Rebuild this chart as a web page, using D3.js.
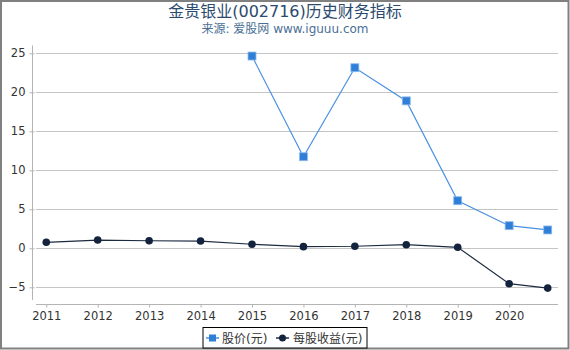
<!DOCTYPE html>
<html>
<head>
<meta charset="utf-8">
<script src="https://cdn.jsdelivr.net/npm/d3@7"></script>
<style>
  body { margin: 0; background: #fff; }
  svg text { font-family: "DejaVu Sans", "Noto Sans CJK SC", sans-serif; }
</style>
</head>
<body>
<div id="chart"></div>
<script>
// years (last point is a partial year)
const years = [2011, 2012, 2013, 2014, 2015, 2016, 2017, 2018, 2019, 2020, 2020.75];
const price = [null, null, null, null, 24.65, 11.74, 23.15, 18.9, 6.1, 2.9, 2.35];
const eps = [0.77, 1.06, 0.97, 0.93, 0.52, 0.21, 0.26, 0.46, 0.13, -4.54, -5.1];
const xTicks = [2011, 2012, 2013, 2014, 2015, 2016, 2017, 2018, 2019, 2020];
const yTicks = [-5, 0, 5, 10, 15, 20, 25];
const seriesNames = ["股价(元)", "每股收益(元)"];

const W = 570, H = 350;
const svg = d3.select("#chart").append("svg")
  .attr("width", W).attr("height", H);

// outer frame
svg.append("rect")
  .attr("x", 1).attr("y", 1).attr("width", W - 2.5).attr("height", H - 2.5)
  .attr("fill", "none").attr("stroke", "#808080").attr("stroke-width", 2);

const x = d3.scaleLinear().domain([2010.8, 2020.95]).range([36, 558]);
const y = d3.scaleLinear().domain([-7, 26]).range([302.9, 45.5]);

// title
svg.append("text").attr("x", 285).attr("y", 17).attr("text-anchor", "middle")
  .attr("font-size", 16).attr("fill", "#2b4a6e").text("金贵银业(002716)历史财务指标");
svg.append("text").attr("x", 285).attr("y", 33).attr("text-anchor", "middle")
  .attr("font-size", 12).attr("fill", "#4a6f96").text("来源: 爱股网 www.iguuu.com");

// grid lines
svg.append("g").selectAll("line").data(yTicks).join("line")
  .attr("x1", 36).attr("x2", 558)
  .attr("y1", d => Math.round(y(d)) + 0.5).attr("y2", d => Math.round(y(d)) + 0.5)
  .attr("stroke", "#c4c4c4").attr("stroke-width", 1);

// y axis
const yAxis = svg.append("g").attr("transform", "translate(32.5,0)")
  .call(d3.axisLeft(y).tickValues(yTicks).tickSize(3).tickPadding(4));
yAxis.select(".domain").attr("d", `M0,${y(26)}V300`).attr("stroke", "#b4b4b4");
yAxis.selectAll(".tick line").attr("stroke", "#b4b4b4").attr("x2", 2).attr("x1", -3);
yAxis.selectAll(".tick text").attr("font-size", 11.5).attr("fill", "#333")
  .attr("font-family", "DejaVu Sans");

// x axis
const xAxis = svg.append("g").attr("transform", "translate(0,304.5)")
  .call(d3.axisBottom(x).tickValues(xTicks).tickFormat(d3.format("d")).tickSize(3).tickPadding(4));
xAxis.select(".domain").attr("d", "M36,0H558").attr("stroke", "#b4b4b4");
xAxis.selectAll(".tick line").attr("stroke", "#b4b4b4");
xAxis.selectAll(".tick text").attr("font-size", 11.5).attr("fill", "#333")
  .attr("font-family", "DejaVu Sans");

// lines
const priceData = years.map((yr, i) => ({ x: yr, v: price[i] })).filter(d => d.v !== null);
const epsData = years.map((yr, i) => ({ x: yr, v: eps[i] }));
const line = d3.line().x(d => x(d.x)).y(d => y(d.v));

svg.append("path").datum(priceData).attr("d", line)
  .attr("fill", "none").attr("stroke", "#4a90e2").attr("stroke-width", 1.2);
svg.append("g").selectAll("rect").data(priceData).join("rect")
  .attr("x", d => x(d.x) - 4).attr("y", d => y(d.v) - 4)
  .attr("width", 8).attr("height", 8)
  .attr("fill", "#2f7fd9").attr("stroke", "#8fbcec").attr("stroke-width", 0.8);

svg.append("path").datum(epsData).attr("d", line)
  .attr("fill", "none").attr("stroke", "#1c2b40").attr("stroke-width", 1.2);
svg.append("g").selectAll("circle").data(epsData).join("circle")
  .attr("cx", d => x(d.x)).attr("cy", d => y(d.v)).attr("r", 3.8)
  .attr("fill", "#13233d");

// legend
const lg = svg.append("g");
lg.append("rect").attr("x", 203).attr("y", 327.5).attr("width", 164).attr("height", 20.5)
  .attr("fill", "#fff").attr("stroke", "#000").attr("stroke-width", 1);
lg.append("line").attr("x1", 206).attr("x2", 219).attr("y1", 338).attr("y2", 338)
  .attr("stroke", "#4a90e2").attr("stroke-width", 1.5);
lg.append("rect").attr("x", 209).attr("y", 334.5).attr("width", 7).attr("height", 7)
  .attr("fill", "#2f7fd9");
lg.append("text").attr("x", 222).attr("y", 342.5).attr("font-size", 12).attr("fill", "#333")
  .text(seriesNames[0]);
lg.append("line").attr("x1", 276).attr("x2", 289).attr("y1", 338).attr("y2", 338)
  .attr("stroke", "#1c2b40").attr("stroke-width", 1.5);
lg.append("circle").attr("cx", 282.5).attr("cy", 338).attr("r", 3.5).attr("fill", "#13233d");
lg.append("text").attr("x", 293).attr("y", 342.5).attr("font-size", 12).attr("fill", "#333")
  .text(seriesNames[1]);
</script>
</body>
</html>
